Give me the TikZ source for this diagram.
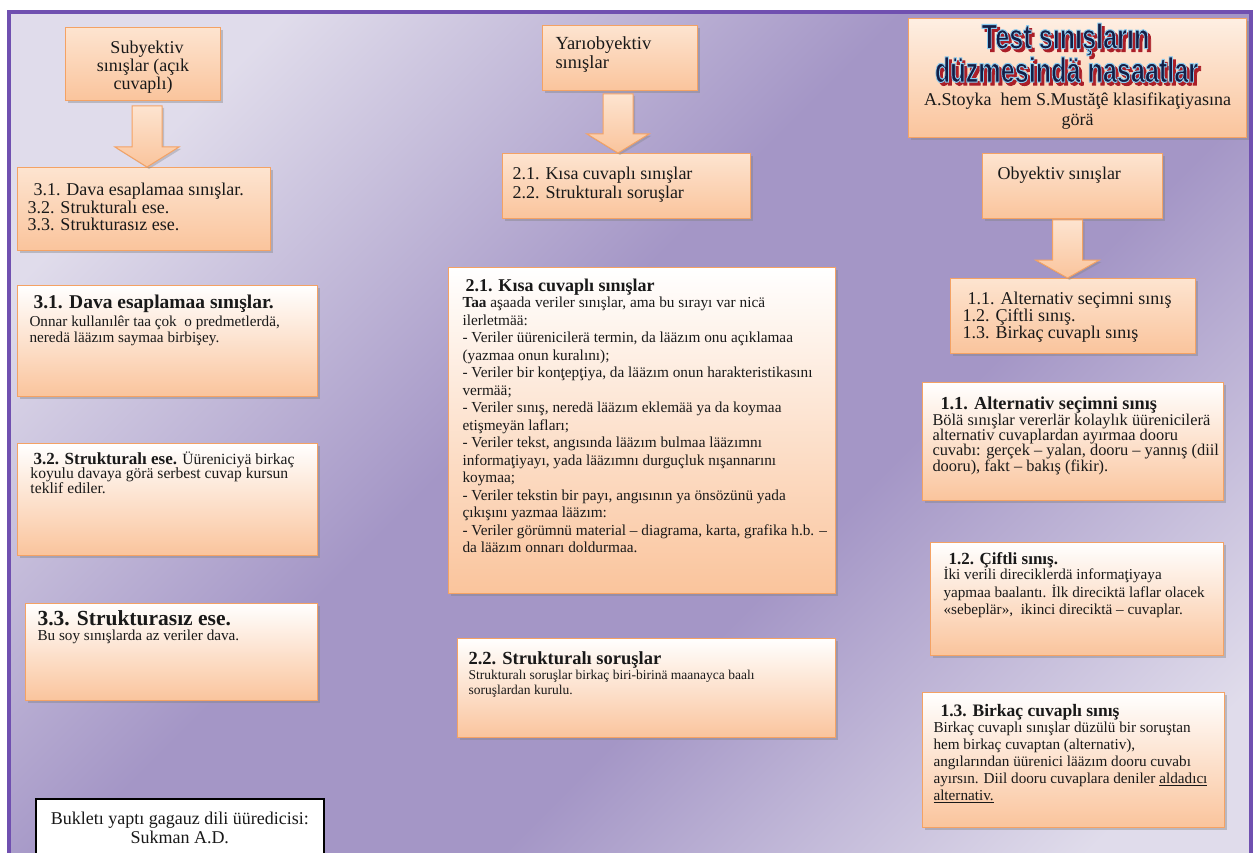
\documentclass[tikz,border=0pt]{standalone}
\usepackage{fontspec}
\usepackage{graphicx}
\setmainfont{Liberation Serif}
\newfontfamily\artfat{Liberation Sans}[BoldFeatures={FakeBold=3}]
\usetikzlibrary{calc,shadows,fadings}

\definecolor{bglite}{RGB}{224,220,235}
\definecolor{bgdark}{RGB}{164,150,198}
\definecolor{rimpurple}{RGB}{112,80,176}
\definecolor{cardedge}{RGB}{244,162,100}
\definecolor{peach}{RGB}{250,196,156}
\definecolor{peachlite}{RGB}{253,228,208}
\definecolor{inkgray}{RGB}{25,25,25}
\definecolor{artnavy}{RGB}{20,30,70}
\definecolor{artred}{RGB}{170,30,40}

\pgfdeclarehorizontalshading{bgband}{100bp}{color(0bp)=(bglite); color(24bp)=(bglite); color(45bp)=(bgdark); color(60bp)=(bgdark); color(80bp)=(bglite); color(100bp)=(bglite)}

% the two title lines, set once for the letters and once for their shadow mask
\newcommand{\artlines}[1]{\parbox{338pt}{\centering\fontsize{35}{31}\selectfont
  \scalebox{0.72}[1]{#1{Test sınışların}}\hspace*{24pt}\mbox{}\\
  \scalebox{0.72}[1]{#1{düzmesindä nasaatlar}}\hspace*{22pt}\mbox{}\par}}
\newcommand{\artplain}[1]{\artfat\bfseries #1}
% dark fill with a light blue rim
\newcommand{\artrim}[1]{{\color{artnavy}\special{pdf:code 0.55 0.80 0.94 RG}\artfat\bfseries #1}}

\begin{tikzfadingfrompicture}[name=artshade]
  \node[text=transparent!0, inner sep=0pt] (artmask) {\artlines{\artplain}};
\end{tikzfadingfrompicture}

\lineskiplimit=-100pt

\begin{document}
\begin{tikzpicture}[x=1pt, y=1pt,
    card/.style={draw=cardedge, line width=1pt, top color=white, bottom color=peach,
      drop shadow={shadow xshift=2.5pt, shadow yshift=-2.5pt, opacity=0.4},
      inner sep=0pt, anchor=north west, text=inkgray},
    tag/.style={card, top color=peachlite, bottom color=peach},
    blockarr/.style={draw=cardedge, line width=1pt, top color=peachlite, bottom color=peach,
      drop shadow={shadow xshift=2pt, shadow yshift=-2pt, opacity=0.35}}]
    \useasboundingbox (0,0) rectangle (1253,-853);

    % backdrop and frame
    \fill[white] (0,0) rectangle (1253,-853);
    \shade[shading=bgband, shading angle=-45] (8,-12) rectangle (1251,-853);
    \draw[rimpurple, line width=4pt] (8.5,-853) -- (8.5,-12.5) -- (1250.5,-12.5) -- (1250.5,-853);

    % left column
    \node[tag] (subj) at (65,-27) {\parbox[c][73pt][t]{155pt}{\vspace*{13.5pt}\centering\fontsize{18}{18}\selectfont
        \hspace*{8pt}Subyektiv\\ sınışlar (açık\\ cuvaplı)\par}};
    \node[tag] (subjlist) at (17,-167) {\parbox[c][83pt][t]{253pt}{\vspace*{16pt}\leftskip=10pt\fontsize{18}{17.5}\selectfont
        \hspace*{6pt}3.1. Dava esaplamaa sınışlar.\\ 3.2. Strukturalı ese.\\ 3.3. Strukturasız ese.\par}};
    \node[card] (d31) at (17,-285) {\parbox[c][111pt][t]{300pt}{\vspace*{9pt}\leftskip=12pt
        {\fontsize{19.5}{20}\selectfont\bfseries\hspace*{4pt}3.1. Dava esaplamaa sınışlar.\par}
        \vspace{2pt}\fontsize{15.2}{16}\selectfont
        Onnar kullanılêr taa çok\ \ o predmetlerdä,\\ neredä lääzım saymaa birbişey.\par}};
    \node[card] (d32) at (17,-443) {\parbox[c][112pt][t]{300pt}{\vspace*{8pt}\leftskip=13pt\fontsize{15.6}{14.5}\selectfont
        {\fontsize{17}{14}\selectfont\bfseries\hspace*{3pt}3.2. Strukturalı ese.} Üüreniciyä birkaç\\
        koyulu davaya görä serbest cuvap kursun\\ teklif ediler.\par}};
    \node[card] (d33) at (25,-603) {\parbox[c][97pt][t]{292pt}{\vspace*{7pt}\leftskip=12pt
        {\fontsize{21.5}{20}\selectfont\bfseries 3.3. Strukturasız ese.\par}
        \fontsize{15.2}{15}\selectfont Bu soy sınışlarda az veriler dava.\par}};
    \node[draw=black, line width=1.5pt, fill=white, inner sep=0pt, anchor=north west, text=inkgray] (credit) at (35,-798)
        {\parbox[c][70pt][t]{288pt}{\vspace*{13.5pt}\centering\fontsize{18}{19}\selectfont
        Bukletı yaptı gagauz dili üüredicisi:\\ Sukman A.D.\par}};

    % middle column
    \node[tag] (semi) at (542,-25) {\parbox[c][65pt][t]{155pt}{\vspace*{11.5pt}\leftskip=13pt\fontsize{18.5}{19}\selectfont
        Yarıobyektiv\\ sınışlar\par}};
    \node[tag] (semilist) at (502,-153) {\parbox[c][65pt][t]{248pt}{\vspace*{13.5pt}\leftskip=10pt\fontsize{18}{19}\selectfont
        2.1. Kısa cuvaplı sınışlar\\ 2.2. Strukturalı soruşlar\par}};
    \node[card] (d21) at (448,-267) {\parbox[c][326pt][t]{387pt}{\vspace*{11.5pt}\leftskip=14pt
        {\fontsize{18}{18}\selectfont\bfseries\hspace*{3pt}2.1. Kısa cuvaplı sınışlar\par}
        \vspace{-1pt}\fontsize{15.3}{17.5}\selectfont
        \textbf{Taa} aşaada veriler sınışlar, ama bu sırayı var nicä\\
        ilerletmää:\\
        - Veriler üürenicilerä termin, da lääzım onu açıklamaa\\
        (yazmaa onun kuralını);\\
        - Veriler bir konţepţiya, da lääzım onun harakteristikasını\\
        vermää;\\
        - Veriler sınış, neredä lääzım eklemää ya da koymaa\\
        etişmeyän lafları;\\
        - Veriler tekst, angısında lääzım bulmaa lääzımnı\\
        informaţiyayı, yada lääzımnı durguçluk nışannarını\\
        koymaa;\\
        - Veriler tekstin bir payı, angısının ya önsözünü yada\\
        çıkışını yazmaa lääzım:\\
        - Veriler görümnü material – diagrama, karta, grafika h.b. –\\
        da lääzım onnarı doldurmaa.\par}};
    \node[card] (d22) at (457,-638) {\parbox[c][99pt][t]{378pt}{\vspace*{13.5pt}\leftskip=11pt
        {\fontsize{18.5}{18}\selectfont\bfseries 2.2. Strukturalı soruşlar\par}
        \fontsize{13.5}{15}\selectfont
        Strukturalı soruşlar birkaç biri-birinä maanayca baalı\\ soruşlardan kurulu.\par}};

    % right column
    \node[tag, top color=peachlite!60!white] (title) at (908,-18) {\parbox[c][119pt][t]{338pt}{\vspace*{74pt}\centering
        \fontsize{18}{20}\selectfont A.Stoyka\ \ hem S.Mustăţê klasifikaţiyasına\\ görä\par}};
    \coordinate (artspot) at ($(title.north)+(3,-8)$);
    \node[inner sep=0pt, anchor=north] (titleart) at ($(title.north)+(0,-5)$) {\phantom{\artlines{\artplain}}};
    \fill[artred, path fading=artshade, fit fading=false,
        fading transform={shift={($(titleart.center)+(3,-3)$)}}]
        ($(title.north west)+(2,-2)$) rectangle ($(title.south east)+(-2,2)$);
    \node[inner sep=0pt, anchor=north] (titletext) at (titleart.north) {\artlines{\artrim}};

    \node[tag] (obj) at (982,-153) {\parbox[c][65pt][t]{180pt}{\vspace*{13.5pt}\leftskip=15pt\fontsize{18}{19}\selectfont
        Obyektiv sınışlar\par}};
    \node[tag] (objlist) at (950,-278) {\parbox[c][75pt][t]{245pt}{\vspace*{13.5pt}\leftskip=12pt\fontsize{18}{17}\selectfont
        \hspace*{5pt}1.1. Alternativ seçimni sınış\\ 1.2. Çiftli sınış.\\ 1.3. Birkaç cuvaplı sınış\par}};
    \node[card] (d11) at (922,-382) {\parbox[c][118pt][t]{301pt}{\vspace*{14.5pt}\leftskip=10pt
        {\fontsize{18.3}{18}\selectfont\bfseries\hspace*{8pt}1.1. Alternativ seçimni sınış\par}
        \fontsize{16.4}{15}\selectfont
        Bölä sınışlar vererlär kolaylık üürenicilerä\\
        alternativ cuvaplardan ayırmaa dooru\\
        cuvabı: gerçek – yalan, dooru – yannış (diil\\
        dooru), fakt – bakış (fikir).\par}};
    \node[card] (d12) at (930,-542) {\parbox[c][113pt][t]{293pt}{\vspace*{10.5pt}\leftskip=13pt
        {\fontsize{17}{17}\selectfont\bfseries\hspace*{5pt}1.2. Çiftli sınış.\par}
        \vspace{-2.5pt}\fontsize{15.2}{17.5}\selectfont
        İki verili direciklerdä informaţiyaya\\
        yapmaa baalantı. İlk direciktä laflar olacek\\
        «sebeplär»,\ \ ikinci direciktä – cuvaplar.\par}};
    \node[card] (d13) at (922,-692) {\parbox[c][135pt][t]{302pt}{\vspace*{12pt}\leftskip=11pt
        {\fontsize{17.5}{17}\selectfont\bfseries\hspace*{7pt}1.3. Birkaç cuvaplı sınış\par}
        \vspace{-1pt}\fontsize{15.2}{17}\selectfont
        Birkaç cuvaplı sınışlar düzülü bir soruştan\\
        hem birkaç cuvaptan (alternativ),\\
        angılarından üürenici lääzım dooru cuvabı\\
        ayırsın. Diil dooru cuvaplara deniler \underline{aldadıcı}\\
        \underline{alternativ.}\par}};

    % block arrows between the heads and their lists
    \path[blockarr] let \p1=($(subj.south)+(4,0)$), \p2=(subjlist.north) in
        (\x1-15,\y1-5) -- (\x1+15,\y1-5) -- (\x1+15,\y2+20) -- (\x1+32,\y2+20)
        -- (\x1,\y2) -- (\x1-32,\y2+20) -- (\x1-15,\y2+20) -- cycle;
    \path[blockarr] let \p1=($(semi.south)+(-2,0)$), \p2=(semilist.north) in
        (\x1-15,\y1-3) -- (\x1+15,\y1-3) -- (\x1+15,\y2+19) -- (\x1+31,\y2+19)
        -- (\x1,\y2) -- (\x1-31,\y2+19) -- (\x1-15,\y2+19) -- cycle;
    \path[blockarr] let \p1=($(obj.south)+(-5,0)$), \p2=(objlist.north) in
        (\x1-15,\y1-1) -- (\x1+15,\y1-1) -- (\x1+15,\y2+18) -- (\x1+32,\y2+18)
        -- (\x1,\y2) -- (\x1-32,\y2+18) -- (\x1-15,\y2+18) -- cycle;
\end{tikzpicture}
\end{document}
